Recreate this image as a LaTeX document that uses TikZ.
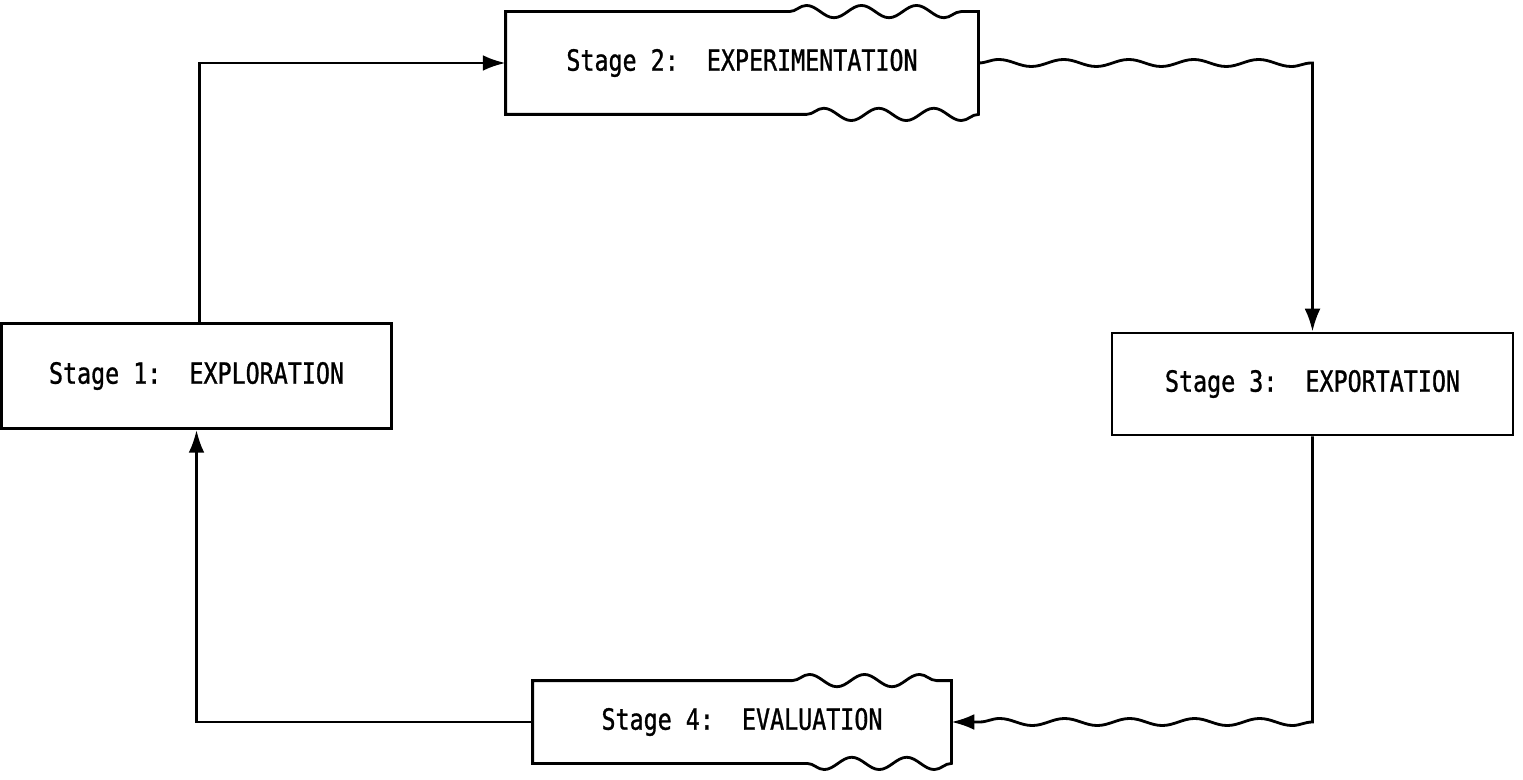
\documentclass[tikz,border=0pt]{standalone}
\usepackage{fontspec}
\setmonofont[FakeStretch=0.8, FakeBold=1]{DejaVu Sans Mono}
\usetikzlibrary{arrows.meta,decorations.pathmorphing,calc}

\tikzset{
stage/.style={font=\ttfamily\fontsize{16.6}{19}\selectfont, inner sep=0pt},
flow/.style={-{Latex[length=13pt,width=9pt]}},
wavy/.style={decoration={snake, amplitude=3.5pt, segment length=1.1cm}},
ripple/.style={decoration={snake, amplitude=2pt, segment length=1.3cm}}
}

\begin{document}
\begin{tikzpicture}[line width=1.6pt]
\useasboundingbox (0,0) rectangle (30.46,-15.6);

\node[stage, draw, minimum width=7.8cm, minimum height=2.1cm] (stage one) at (3.93,-7.52) {Stage 1:\ \ EXPLORATION};

\node[stage, minimum width=9.4cm, minimum height=2cm] (stage two) at (14.84,-1.26) {Stage 2:\ \ EXPERIMENTATION};

\node[stage, draw, minimum width=8.02cm, minimum height=2.04cm] (stage three) at (26.25,-7.68) {Stage 3:\ \ EXPORTATION};

\node[stage, minimum width=8.32cm, minimum height=1.6cm] (stage four) at (14.84,-14.44) {Stage 4:\ \ EVALUATION};

% wavy outlines of stage 2 and stage 4
\draw (stage two.north west) -- ($(stage two.north west)!0.6!(stage two.north east)$) decorate[wavy] {-- (stage two.north east)} -- (stage two.south east) decorate[wavy] {-- ($(stage two.south west)!0.6!(stage two.south east)$)} -- (stage two.south west) -- cycle;
\draw (stage four.north west) -- ($(stage four.north west)!0.62!(stage four.north east)$) decorate[wavy] {-- (stage four.north east)} -- (stage four.south east) decorate[wavy] {-- ($(stage four.south west)!0.62!(stage four.south east)$)} -- (stage four.south west) -- cycle;

\draw[flow] ([xshift=0.06cm]stage one.north) |- (stage two.west);
\draw[flow] (stage two.east) decorate[ripple] {-- (stage two.east -| stage three.north)} -- (stage three.north);
\draw[flow] (stage three.south) -- (stage three.south |- stage four.east) decorate[ripple] {-- ($(stage four.east)+(0.5,0)$)} -- (stage four.east);
\draw[flow] (stage four.west) -| (stage one.south);
\end{tikzpicture}
\end{document}
